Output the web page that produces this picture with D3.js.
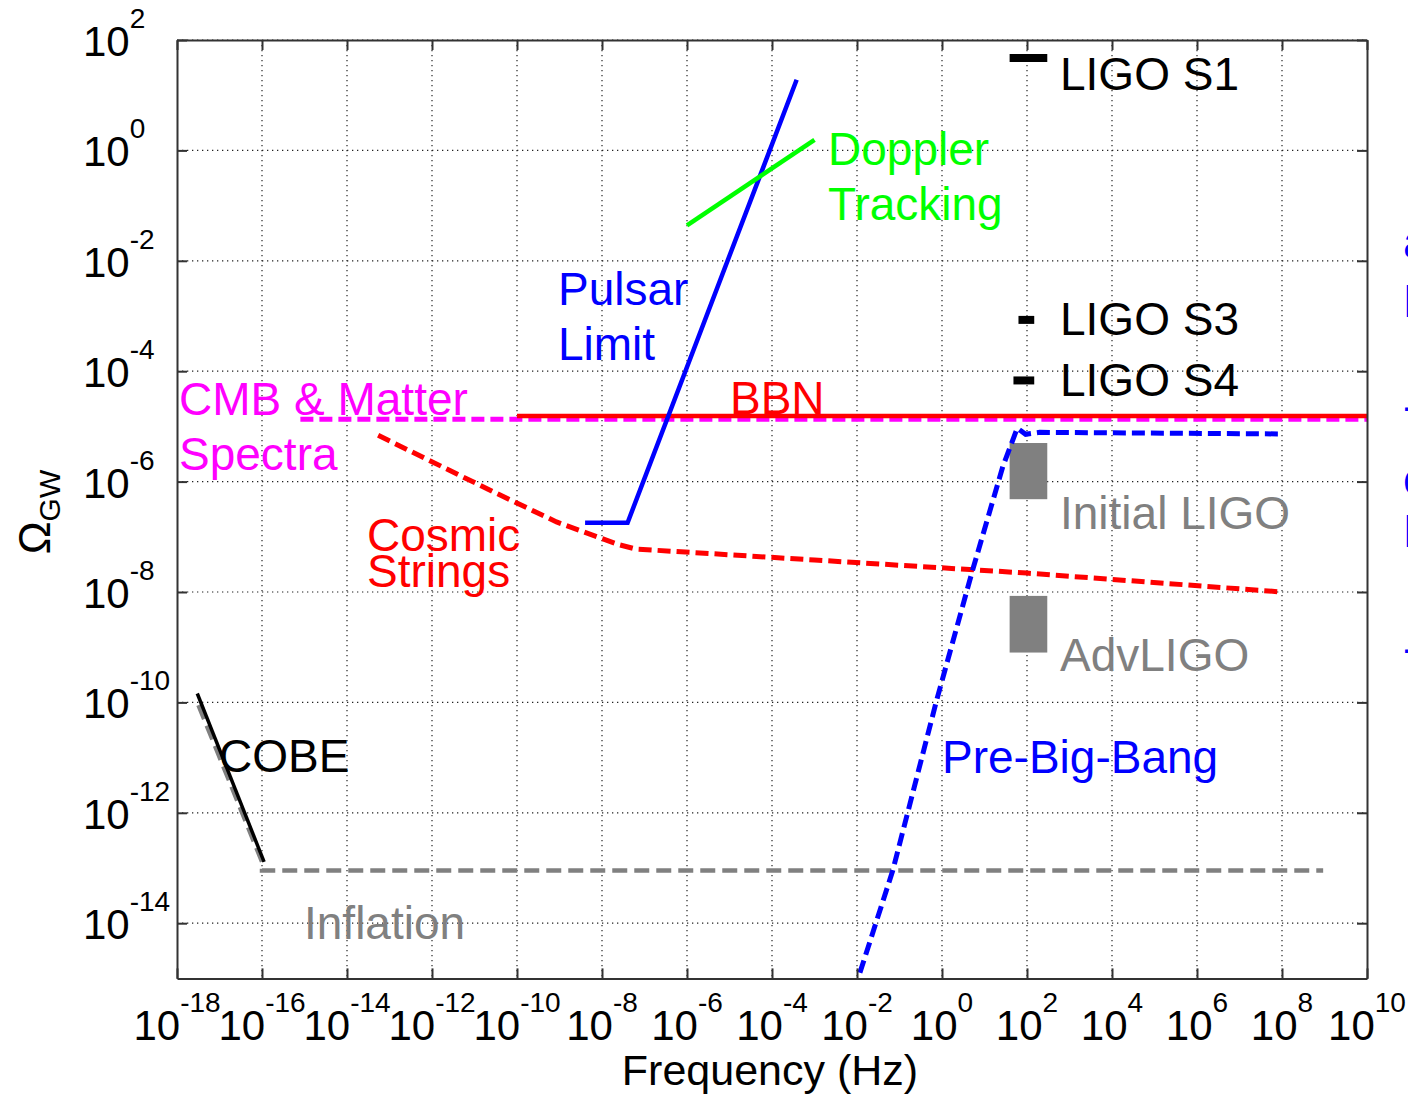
<!DOCTYPE html>
<html>
<head>
<meta charset="utf-8">
<script src="https://cdn.jsdelivr.net/npm/d3@7"></script>
<style>
  body { margin: 0; background: #fff; }
  svg { display: block; font-family: "Liberation Sans", Arial, sans-serif; }
</style>
</head>
<body>
<svg id="chart" width="1408" height="1094"></svg>
<script>
// ---- tick exponents ----
const xTickExps = [-18, -16, -14, -12, -10, -8, -6, -4, -2, 0, 2, 4, 6, 8, 10];
const yTickExps = [-14, -12, -10, -8, -6, -4, -2, 0, 2];

// ---- bounds and spectra: frequency (Hz) and Omega_GW ----
const bbnF = [1e-10, 1e10];
const bbnOmega = [1.55e-5, 1.55e-5];

const cmbF = [8e-16, 1e10];
const cmbOmega = [1.35e-5, 1.35e-5];

const pulsarF = [4e-9, 4e-8, 3.8e-4];
const pulsarOmega = [1.8e-7, 1.8e-7, 19];

const dopplerF = [1e-6, 1e-3];
const dopplerOmega = [4.4e-2, 1.55];

const stringsF = [5.4e-14, 2.7e-11, 8.5e-10, 2.5e-8, 6.3e-8, 1e-3, 1e2, 1e8];
const stringsOmega = [6.9e-6, 6.6e-7, 1.86e-7, 7.2e-8, 6.0e-8, 3.8e-8, 2.2e-8, 1e-8];

const pbbF = [1.17e-2, 6.97e-2, 0.73, 5.25, 26.9, 59, 93, 200, 1e8];
const pbbOmega = [1.26e-15, 9.1e-14, 1.02e-10, 2.5e-8, 1.86e-6, 9.3e-6, 7.2e-6, 7.8e-6, 7.3e-6];

const cobeF = [3.0e-18, 1.12e-16];
const cobeOmega = [1.45e-10, 1.29e-13];

const inflationF = [3.2e-18, 1.0e-16, 1.0e-16, 9.3e8];
const inflationOmega = [8.9e-11, 1.3e-13, 9e-14, 9e-14];

// LIGO science-run upper limits (band in Hz, level)
const ligoRuns = ["LIGO S1", "LIGO S3", "LIGO S4"];
const ligoRunF0 = [39, 63, 48];
const ligoRunF1 = [300, 148, 148];
const ligoRunOmega = [47, 8.5e-4, 6.8e-5];

// detector sensitivity bands
const detectors = ["Initial LIGO", "AdvLIGO"];
const detectorF0 = [39, 39];
const detectorF1 = [300, 300];
const detectorOmegaLo = [4.8e-7, 8e-10];
const detectorOmegaHi = [5e-6, 8.5e-9];

// ---- layout ----
const padL = 177, padR = 1367, padT = 40, padB = 978.4;
const svg = d3.select("#chart");

const x = d3.scaleLog().domain([1e-18, 1e10]).range([padL, padR]);
const y = d3.scaleLog().domain([1e-15, 1e2]).range([padB, padT]);

const xTicks = xTickExps.map(e => Math.pow(10, e));
const yTicks = yTickExps.map(e => Math.pow(10, e));

// plot clip
svg.append("defs").append("clipPath").attr("id", "plotClip")
  .append("rect").attr("x", padL).attr("y", padT)
  .attr("width", padR - padL).attr("height", padB - padT);

// ---- dotted grid ----
const grid = svg.append("g").attr("stroke", "#222").attr("stroke-width", 1.2)
  .attr("stroke-dasharray", "1.3,3.7");
grid.selectAll("line.gx").data(xTicks.slice(1, -1)).join("line")
  .attr("x1", d => x(d)).attr("x2", d => x(d))
  .attr("y1", padT).attr("y2", padB);
grid.selectAll("line.gy").data(yTicks).join("line")
  .attr("y1", d => y(d)).attr("y2", d => y(d))
  .attr("x1", padL).attr("x2", padR);

// ---- data layers ----
const plot = svg.append("g").attr("clip-path", "url(#plotClip)").attr("fill", "none");
const line = d3.line().x(d => x(d[0])).y(d => y(d[1]));
const pts = (fs, os) => fs.map((f, i) => [f, os[i]]);

// detector boxes
plot.selectAll("rect.det").data(detectors).join("rect")
  .attr("x", (d, i) => x(detectorF0[i]))
  .attr("width", (d, i) => x(detectorF1[i]) - x(detectorF0[i]))
  .attr("y", (d, i) => y(detectorOmegaHi[i]))
  .attr("height", (d, i) => y(detectorOmegaLo[i]) - y(detectorOmegaHi[i]))
  .attr("fill", "#808080");

// CMB & matter spectra (dashed magenta)
plot.append("path").attr("d", line(pts(cmbF, cmbOmega)))
  .attr("stroke", "#ff00ff").attr("stroke-width", 5).attr("stroke-dasharray", "13,6");
// BBN (solid red)
plot.append("path").attr("d", line(pts(bbnF, bbnOmega)))
  .attr("stroke", "#ff0000").attr("stroke-width", 4.5);
// inflation (dashed gray)
plot.append("path").attr("d", line(pts(inflationF, inflationOmega)))
  .attr("stroke", "#808080").attr("stroke-width", 4.5).attr("stroke-dasharray", "15,7");
// COBE (solid black)
plot.append("path").attr("d", line(pts(cobeF, cobeOmega)))
  .attr("stroke", "#000").attr("stroke-width", 3.5);
// cosmic strings (dashed red)
plot.append("path").attr("d", line(pts(stringsF, stringsOmega)))
  .attr("stroke", "#ff0000").attr("stroke-width", 5).attr("stroke-dasharray", "13,6");
// pulsar timing limit (solid blue)
plot.append("path").attr("d", line(pts(pulsarF, pulsarOmega)))
  .attr("stroke", "#0000ff").attr("stroke-width", 4.5).attr("stroke-linejoin", "miter");
// Doppler tracking (solid green)
plot.append("path").attr("d", line(pts(dopplerF, dopplerOmega)))
  .attr("stroke", "#00ff00").attr("stroke-width", 4.5);
// pre-big-bang model (dashed blue)
plot.append("path").attr("d", line(pts(pbbF, pbbOmega)))
  .attr("stroke", "#0000ff").attr("stroke-width", 5).attr("stroke-dasharray", "13,6");
// LIGO run limits
plot.selectAll("line.run").data(ligoRuns).join("line")
  .attr("x1", (d, i) => x(ligoRunF0[i])).attr("x2", (d, i) => x(ligoRunF1[i]))
  .attr("y1", (d, i) => y(ligoRunOmega[i])).attr("y2", (d, i) => y(ligoRunOmega[i]))
  .attr("stroke", "#000").attr("stroke-width", 8);

// ---- axes (ticks inward on all four sides) ----
const axisStyle = g => {
  g.selectAll("path.domain").attr("stroke", "#333").attr("stroke-width", 2);
  g.selectAll(".tick line").attr("stroke", "#333").attr("stroke-width", 2);
  g.selectAll(".tick text").remove();
};
svg.append("g").attr("transform", `translate(0,${padB})`)
  .call(d3.axisBottom(x).tickValues(xTicks).tickSizeInner(-10).tickSizeOuter(0).tickFormat(""))
  .call(axisStyle);
svg.append("g").attr("transform", `translate(0,${padT})`)
  .call(d3.axisTop(x).tickValues(xTicks).tickSizeInner(-10).tickSizeOuter(0).tickFormat(""))
  .call(axisStyle);
svg.append("g").attr("transform", `translate(${padL},0)`)
  .call(d3.axisLeft(y).tickValues(yTicks).tickSizeInner(-10).tickSizeOuter(0).tickFormat(""))
  .call(axisStyle);
svg.append("g").attr("transform", `translate(${padR},0)`)
  .call(d3.axisRight(y).tickValues(yTicks).tickSizeInner(-10).tickSizeOuter(0).tickFormat(""))
  .call(axisStyle);

// ---- tick labels with superscript exponents ----
const tickFont = 42, supFont = 28;
const xl = svg.append("g").attr("fill", "#000");
xTickExps.forEach(e => {
  const t = xl.append("text").attr("x", x(Math.pow(10, e))).attr("y", 1040)
    .attr("text-anchor", "middle").attr("font-size", tickFont);
  t.append("tspan").text("10");
  t.append("tspan").attr("font-size", supFont).attr("dy", -28).text(String(e));
});
const yl = svg.append("g").attr("fill", "#000");
yTickExps.forEach(e => {
  const t = yl.append("text").attr("x", 83).attr("y", y(Math.pow(10, e)) + 16)
    .attr("text-anchor", "start").attr("font-size", tickFont);
  t.append("tspan").text("10");
  t.append("tspan").attr("font-size", supFont).attr("dy", -28).text(String(e));
});

// axis titles
svg.append("text").attr("x", 770).attr("y", 1085).attr("text-anchor", "middle")
  .attr("font-size", 43).text("Frequency (Hz)");
const yt = svg.append("text").attr("transform", "translate(50,512) rotate(-90)")
  .attr("text-anchor", "middle").attr("font-size", 44);
yt.append("tspan").text("Ω");
yt.append("tspan").attr("font-size", 30).attr("dy", 10).text("GW");

// ---- annotations ----
const labelFont = 46;
const labels = [
  { t: "LIGO S1", x: 1060, y: 90, c: "#000" },
  { t: "LIGO S3", x: 1060, y: 335, c: "#000" },
  { t: "LIGO S4", x: 1060, y: 396, c: "#000" },
  { t: "Doppler", x: 828, y: 165, c: "#00ff00" },
  { t: "Tracking", x: 828, y: 220, c: "#00ff00" },
  { t: "Pulsar", x: 558, y: 305, c: "#0000ff" },
  { t: "Limit", x: 558, y: 360, c: "#0000ff" },
  { t: "BBN", x: 730, y: 414, c: "#ff0000" },
  { t: "CMB & Matter", x: 179, y: 415, c: "#ff00ff" },
  { t: "Spectra", x: 179, y: 470, c: "#ff00ff" },
  { t: "Cosmic", x: 367, y: 551, c: "#ff0000" },
  { t: "Strings", x: 367, y: 587, c: "#ff0000" },
  { t: "Initial LIGO", x: 1060, y: 529, c: "#808080" },
  { t: "AdvLIGO", x: 1060, y: 671, c: "#808080" },
  { t: "Pre-Big-Bang", x: 942, y: 773, c: "#0000ff" },
  { t: "COBE", x: 219, y: 772, c: "#000" },
  { t: "Inflation", x: 304, y: 939, c: "#808080" },
  // notes running off the right edge
  { t: "a", x: 1403, y: 258, c: "#0000ff" },
  { t: "L", x: 1403, y: 317, c: "#0000ff" },
  { t: "-", x: 1403, y: 422, c: "#0000ff" },
  { t: "c", x: 1403, y: 495, c: "#0000ff" },
  { t: "L", x: 1403, y: 547, c: "#0000ff" },
  { t: "-", x: 1403, y: 664, c: "#0000ff" }
];
svg.append("g").selectAll("text").data(labels).join("text")
  .attr("x", d => d.x).attr("y", d => d.y).attr("fill", d => d.c)
  .attr("font-size", labelFont).text(d => d.t);
</script>
</body>
</html>
